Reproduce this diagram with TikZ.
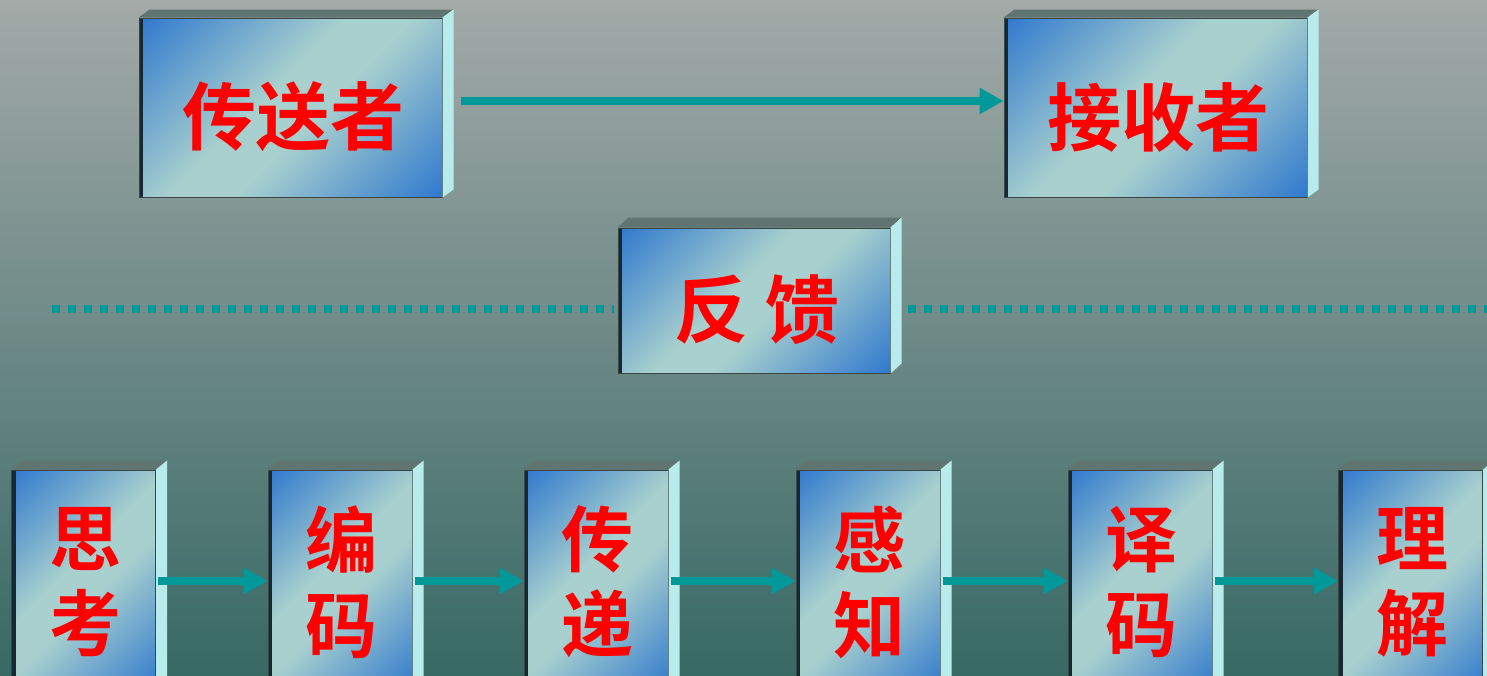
\documentclass[tikz,border=0pt]{standalone}
\usepackage{fontspec}
\newfontfamily\cjk{Noto Sans CJK SC}[BoldFont={Noto Sans CJK SC Bold}]
\usetikzlibrary{arrows.meta,calc}
\definecolor{bgtop}{RGB}{163,170,168}
\definecolor{bgmid}{RGB}{124,144,142}
\definecolor{bgbot}{RGB}{55,105,101}
\definecolor{bxblue}{RGB}{50,122,206}
\definecolor{bxlight}{RGB}{168,208,206}
\definecolor{bxtop}{RGB}{96,117,114}
\definecolor{bxside}{RGB}{184,236,236}
\definecolor{bxedge}{RGB}{22,40,50}
\definecolor{arrteal}{RGB}{0,153,153}
\pgfdeclarehorizontalshading{boxshade}{100bp}{color(0bp)=(bxblue); color(15bp)=(bxblue); color(45bp)=(bxlight); color(55bp)=(bxlight); color(85bp)=(bxblue); color(100bp)=(bxblue)}
\newcommand\bevel[2]{%
  \fill[bxtop] (#1.north west) -- ++(#2) -- ($(#1.north east)+(#2)$) -- (#1.north east) -- cycle;
  \fill[bxside] (#1.north east) -- ++(#2) -- ($(#1.south east)+(#2)$) -- (#1.south east) -- cycle;}
\tikzset{
  face/.style={shading=boxshade, shading angle=-45, draw=bxtop!60!black, line width=1pt, inner sep=0pt,
    path picture={\fill[bxedge] (path picture bounding box.north west) rectangle ([xshift=4pt]path picture bounding box.south west);}},
  topbox/.style={face, minimum width=303pt, minimum height=179pt},
  fbbox/.style={face, minimum width=272pt, minimum height=145pt},
  lowbox/.style={face, minimum width=144pt, minimum height=222pt},
  lbl/.style={text=red, font=\cjk\bfseries\fontsize{74}{86}\selectfont, align=center, inner sep=0pt},
  vlbl/.style={text=red, font=\cjk\bfseries\fontsize{72}{85}\selectfont, align=center, inner sep=0pt},
  conn/.style={draw=arrteal, line width=8pt, -{Triangle[length=24pt,width=25pt]}},
  dots/.style={draw=arrteal, line width=8pt, dash pattern=on 8pt off 8pt},
}
\begin{document}
\begin{tikzpicture}
\useasboundingbox (0,0) rectangle (1487pt,-675pt);
\clip (0,0) rectangle (1487pt,-675pt);
\shade[top color=bgtop, middle color=bgmid, bottom color=bgbot] (0,0) rectangle (1487pt,-675pt);
% top row
\node[topbox] (snd) at (290.5pt,-107.5pt) {};
\node[topbox] (rcv) at (1155.5pt,-107.5pt) {};
\bevel{snd}{11pt,8pt}
\bevel{rcv}{11pt,8pt}
\node[lbl] (tsnd) at (293pt,-117pt) {传送者};
\node[lbl] (trcv) at (1158pt,-117pt) {接收者};
\draw[conn] ([xshift=18pt,yshift=6.5pt]snd.east) -- ([yshift=6.5pt]rcv.west);
% feedback
\node[fbbox] (fb) at (754pt,-300.5pt) {};
\bevel{fb}{11pt,10pt}
\node[lbl] (tfb) at (757pt,-310pt) {反 馈};
\coordinate (dl) at (52pt,-309pt);
\coordinate (dr) at (1487pt,-309pt);
\draw[dots] (dl) -- ([xshift=-4pt,yshift=-8.5pt]fb.west);
\draw[dots] ([xshift=17pt,yshift=-8.5pt]fb.east) -- (dr);
% bottom row
\node[lowbox] (b1) at (83.5pt,-581pt) {};
\node[lowbox] (b2) at (340pt,-581pt) {};
\node[lowbox] (b3) at (596pt,-581pt) {};
\node[lowbox] (b4) at (868pt,-581pt) {};
\node[lowbox] (b5) at (1140pt,-581pt) {};
\node[lowbox] (b6) at (1410.5pt,-581pt) {};
\foreach \n in {b1,b2,b3,b4,b5,b6} {\bevel{\n}{11pt,9pt}}
\node[vlbl] (t1) at (85pt,-582pt) {思\\考};
\node[vlbl] (t2) at (341pt,-582pt) {编\\码};
\node[vlbl] (t3) at (597pt,-582pt) {传\\递};
\node[vlbl] (t4) at (869pt,-582pt) {感\\知};
\node[vlbl] (t5) at (1141pt,-582pt) {译\\码};
\node[vlbl] (t6) at (1412pt,-582pt) {理\\解};
\draw[conn] ([xshift=2pt]b1.east) -- (b2.west);
\draw[conn] ([xshift=2pt]b2.east) -- (b3.west);
\draw[conn] ([xshift=2pt]b3.east) -- (b4.west);
\draw[conn] ([xshift=2pt]b4.east) -- (b5.west);
\draw[conn] ([xshift=2pt]b5.east) -- (b6.west);
\end{tikzpicture}
\end{document}
